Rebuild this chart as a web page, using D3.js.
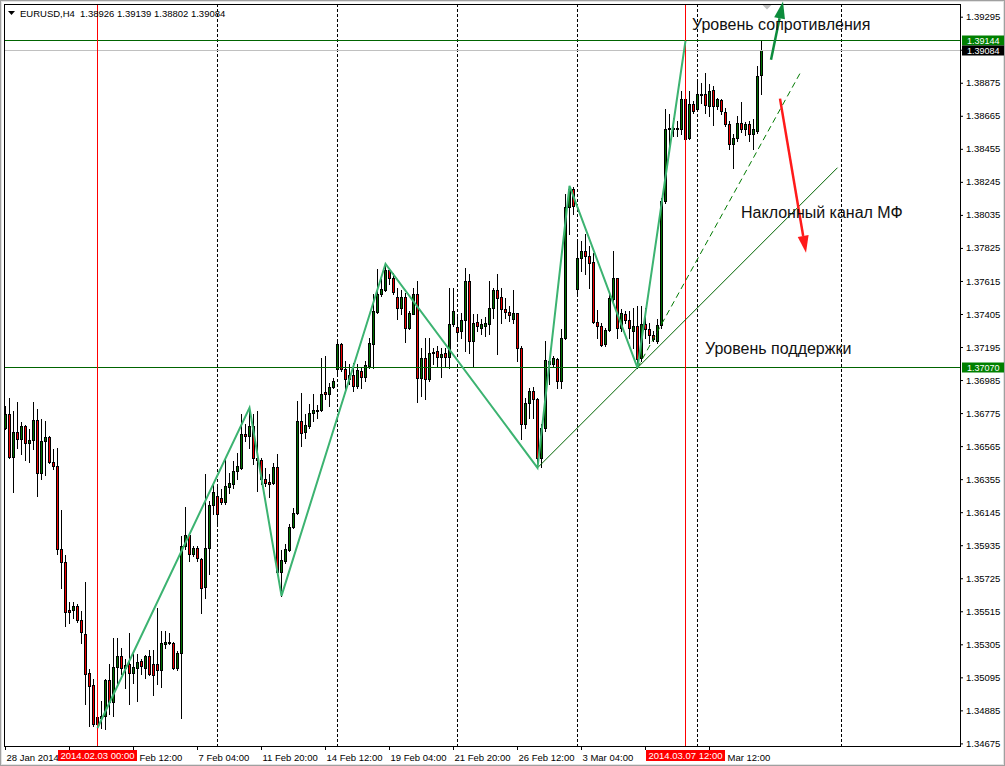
<!DOCTYPE html>
<html><head><meta charset="utf-8">
<script src="https://cdn.jsdelivr.net/npm/d3@7"></script>
<style>
html,body{margin:0;padding:0;background:#fff;}
svg{display:block;font-family:"Liberation Sans",Arial,sans-serif;}
</style>
</head><body>
<svg id="chart" width="1005" height="766"></svg>
<script>
// ---------------- DATA ----------------
const symbol = "EURUSD,H4";
// H4 bars, index 0 = 28 Jan 2014 04:00
const openP = [1.36681,1.36770,1.36497,1.36656,1.36611,1.36694,1.36586,1.36605,1.36732,1.36395,
1.36599,1.36624,1.36465,1.36440,1.35912,1.35829,1.35524,1.35524,1.35549,1.35460,
1.35371,1.35123,1.35047,1.34799,1.34837,1.34850,1.35079,1.34939,1.35161,1.35231,
1.35155,1.35180,1.35123,1.35155,1.35199,1.35155,1.35231,1.35180,1.35180,1.35142,
1.35307,1.35314,1.35314,1.35155,1.35250,1.35931,1.36001,1.35880,1.35918,1.35848,
1.35670,1.35918,1.36192,1.36249,1.36236,1.36211,1.36306,1.36325,1.36408,1.36427,
1.36643,1.36630,1.36694,1.36490,1.36478,1.36357,1.36338,1.36331,1.36433,1.35765,
1.35835,1.35905,1.36052,1.36141,1.36726,1.36656,1.36694,1.36777,1.36789,1.36796,
1.36910,1.36897,1.36942,1.37056,1.37215,1.37056,1.36993,1.37018,1.36948,1.37044,
1.37006,1.37076,1.37215,1.37419,1.37534,1.37559,1.37686,1.37635,1.37514,1.37445,
1.37514,1.37317,1.37406,1.37534,1.36999,1.37126,1.36993,1.37158,1.37171,1.37133,
1.37158,1.37133,1.37343,1.37323,1.37298,1.37368,1.37616,1.37235,1.37355,1.37317,
1.37330,1.37343,1.37445,1.37559,1.37514,1.37438,1.37419,1.37375,1.37413,1.37190,
1.36707,1.36840,1.36917,1.36866,1.36490,1.36681,1.37107,1.37088,1.37120,1.36980,
1.37254,1.38087,1.38201,1.37565,1.37762,1.37807,1.37775,1.37737,1.37355,1.37330,
1.37215,1.37305,1.37502,1.37635,1.37317,1.37406,1.37368,1.37298,1.37330,1.37126,
1.37343,1.37311,1.37273,1.37235,1.37336,1.38125,1.38583,1.38589,1.38583,1.38583,
1.38774,1.38526,1.38742,1.38708,1.38805,1.38805,1.38729,1.38831,1.38729,1.38767,
1.38691,1.38615,1.38487,1.38526,1.38621,1.38583,1.38615,1.38551,1.38570,1.38926];
const highP = [1.36821,1.36872,1.36789,1.36847,1.36719,1.36700,1.36675,1.36847,1.36802,1.36739,
1.36726,1.36630,1.36548,1.36554,1.36160,1.35874,1.35575,1.35575,1.35562,1.35517,
1.35702,1.35149,1.35085,1.34850,1.34945,1.35085,1.35180,1.35346,1.35346,1.35282,
1.35212,1.35378,1.35244,1.35244,1.35212,1.35238,1.35269,1.35269,1.35536,1.35390,
1.35390,1.35378,1.35320,1.35263,1.35994,1.36179,1.36014,1.35931,1.35931,1.35855,
1.36389,1.36217,1.36325,1.36312,1.36293,1.36490,1.36395,1.36471,1.36522,1.36770,
1.36707,1.36808,1.36770,1.36789,1.36490,1.36427,1.36389,1.36459,1.36516,1.35905,
1.35944,1.36071,1.36173,1.36853,1.36904,1.36770,1.36834,1.36897,1.36828,1.37126,
1.37139,1.36967,1.36999,1.37235,1.37222,1.37107,1.37088,1.37095,1.37088,1.37063,
1.37107,1.37254,1.37534,1.37693,1.37629,1.37724,1.37699,1.37667,1.37572,1.37559,
1.37540,1.37425,1.37572,1.37616,1.37190,1.37254,1.37254,1.37190,1.37203,1.37190,
1.37190,1.37572,1.37572,1.37397,1.37413,1.37699,1.37661,1.37406,1.37406,1.37375,
1.37387,1.37616,1.37572,1.37661,1.37572,1.37508,1.37457,1.37559,1.37413,1.37203,
1.36872,1.36936,1.36942,1.36872,1.36707,1.37235,1.37126,1.37139,1.37126,1.37311,
1.38170,1.38220,1.38214,1.37883,1.37871,1.37915,1.37839,1.37794,1.37432,1.37349,
1.37317,1.37540,1.37807,1.37635,1.37438,1.37425,1.37425,1.37445,1.37457,1.37457,
1.37445,1.37349,1.37298,1.37375,1.38144,1.38708,1.38675,1.38653,1.38634,1.38825,
1.39142,1.38825,1.38761,1.38888,1.38875,1.38939,1.38869,1.38856,1.38780,1.38774,
1.38717,1.38634,1.38551,1.38666,1.38755,1.38627,1.38634,1.38646,1.38984,1.39139];
const lowP = [1.36675,1.36490,1.36274,1.36554,1.36516,1.36478,1.36465,1.36548,1.36249,1.36357,
1.36382,1.36459,1.36420,1.35880,1.35664,1.35422,1.35441,1.35473,1.35447,1.35314,
1.34926,1.34786,1.34786,1.34773,1.34773,1.34767,1.34862,1.34850,1.35059,1.35117,
1.35028,1.34926,1.35059,1.34945,1.35117,1.35091,1.35110,1.34983,1.35053,1.35034,
1.35282,1.35307,1.35149,1.35142,1.34837,1.35912,1.35835,1.35867,1.35835,1.35505,
1.35600,1.35753,1.36134,1.36077,1.36198,1.36198,1.36268,1.36300,1.36357,1.36420,
1.36599,1.36554,1.36452,1.36281,1.36325,1.36312,1.36242,1.36325,1.35759,1.35613,
1.35823,1.35899,1.36045,1.36134,1.36567,1.36618,1.36681,1.36726,1.36745,1.36789,
1.36866,1.36821,1.36936,1.37031,1.37044,1.36929,1.36961,1.36917,1.36936,1.36936,
1.36980,1.37063,1.37063,1.37413,1.37521,1.37553,1.37597,1.37534,1.37375,1.37406,
1.37228,1.37311,1.37406,1.36847,1.36885,1.36866,1.36980,1.37088,1.37076,1.37006,
1.37076,1.37063,1.37330,1.37254,1.37254,1.37171,1.37158,1.37076,1.37298,1.37279,
1.37266,1.37279,1.37381,1.37152,1.37349,1.37381,1.37362,1.37349,1.37107,1.36611,
1.36681,1.36745,1.36745,1.36427,1.36433,1.36662,1.36961,1.37076,1.36936,1.36936,
1.37247,1.37915,1.38042,1.37527,1.37680,1.37661,1.37572,1.37349,1.37254,1.37203,
1.37203,1.37298,1.37489,1.37254,1.37298,1.37349,1.37254,1.37190,1.37063,1.37107,
1.37254,1.37222,1.37235,1.37222,1.37317,1.38112,1.38475,1.38538,1.38538,1.38551,
1.38494,1.38519,1.38685,1.38697,1.38748,1.38685,1.38666,1.38608,1.38708,1.38675,
1.38602,1.38456,1.38335,1.38507,1.38564,1.38545,1.38507,1.38456,1.38558,1.38802];
const closeP = [1.36770,1.36497,1.36656,1.36611,1.36694,1.36586,1.36605,1.36732,1.36395,1.36599,
1.36624,1.36465,1.36440,1.35912,1.35829,1.35511,1.35511,1.35549,1.35460,1.35384,
1.35117,1.35040,1.34799,1.34843,1.34850,1.35079,1.34939,1.35161,1.35231,1.35155,
1.35174,1.35123,1.35161,1.35193,1.35168,1.35231,1.35117,1.35110,1.35142,1.35314,
1.35320,1.35320,1.35155,1.35250,1.35931,1.36001,1.35880,1.35918,1.35855,1.35664,
1.35918,1.36192,1.36274,1.36134,1.36211,1.36312,1.36331,1.36408,1.36440,1.36643,
1.36630,1.36694,1.36490,1.36478,1.36357,1.36331,1.36325,1.36433,1.35765,1.35842,
1.35912,1.36052,1.36141,1.36726,1.36650,1.36700,1.36777,1.36796,1.36796,1.36897,
1.36897,1.36942,1.36980,1.37215,1.37056,1.36993,1.37018,1.36948,1.37050,1.37006,
1.37082,1.37222,1.37425,1.37534,1.37565,1.37686,1.37635,1.37546,1.37445,1.37514,
1.37317,1.37413,1.37534,1.36999,1.37126,1.36993,1.37158,1.37165,1.37133,1.37152,
1.37133,1.37343,1.37425,1.37292,1.37368,1.37616,1.37235,1.37349,1.37330,1.37343,
1.37349,1.37445,1.37559,1.37508,1.37438,1.37419,1.37397,1.37413,1.37190,1.36707,
1.36840,1.36917,1.36866,1.36490,1.36681,1.37114,1.37088,1.37126,1.36980,1.37254,
1.38087,1.38201,1.38093,1.37762,1.37807,1.37775,1.37731,1.37355,1.37330,1.37209,
1.37305,1.37508,1.37635,1.37317,1.37413,1.37368,1.37317,1.37330,1.37120,1.37343,
1.37311,1.37273,1.37247,1.37336,1.38125,1.38583,1.38589,1.38583,1.38589,1.38774,
1.38519,1.38742,1.38697,1.38805,1.38799,1.38736,1.38825,1.38729,1.38774,1.38697,
1.38615,1.38487,1.38526,1.38621,1.38583,1.38615,1.38551,1.38583,1.38920,1.39084];

// price axis tick values and their labels ("" where the label is hidden under a price box)
const priceTicks = [1.39295,1.39085,1.38875,1.38665,1.38455,1.38245,1.38035,1.37825,1.37615,1.37405,
1.37195,1.36985,1.36775,1.36565,1.36355,1.36145,1.35935,1.35725,1.35515,1.35305,1.35095,1.34885,1.34675];
const priceTickLabels = ["1.39295","","1.38875","1.38665","1.38455","1.38245","1.38035","1.37825","1.37615","1.37405",
"1.37195","1.36985","1.36775","1.36565","1.36355","1.36145","1.35935","1.35725","1.35515","1.35305","1.35095","1.34885","1.34675"];
// time axis ticks (bar index) and the visible part of their labels
const timeTickBars = [0,16,32,48,64,80,96,112,128,144,160,176];
const timeTickLabels = ["28 Jan 2014","","Feb 12:00","7 Feb 04:00","11 Feb 20:00","14 Feb 12:00",
"19 Feb 04:00","21 Feb 20:00","26 Feb 12:00","3 Mar 04:00","","Mar 12:00"];
// weekly period separators (bar index)
const separatorBars = [53,83,113,143,173,209];
// red vertical lines
const markerBars = [23,170];
const markerLabels = ["2014.02.03 00:00","2014.03.07 12:00"];
// zigzag
const zigBars = [23,61,69,95,133,141,158,170];
const zigPrices = [1.34773,1.36808,1.35613,1.37724,1.36427,1.38220,1.37063,1.39142];
// channel lines
const channelBars = [133,208];
const channelPrices = [1.36427,1.38335];
const channelDashBars = [158,199];
const channelDashPrices = [1.37063,1.38952];
// horizontal levels
const resistanceLevel = 1.39144;
const supportLevel = 1.37070;
// arrows
const upArrowBars = [191.5,194.5];
const upArrowPrices = [1.39022,1.39391];
const downArrowBars = [193.75,200.25];
const downArrowPrices = [1.38774,1.37794];
// text labels (anchored at bar index / price)
const noteTexts = ["Уровень сопротивления","Наклонный канал МФ","Уровень поддержки"];
const noteBars = [171.75,184,175];
const notePrices = [1.39213,1.38017,1.37152];
const shiftMarkerBar = 190.5;

// ---------------- DRAW ----------------
const W = 1005, H = 766;
const plot = {left:4, top:4, right:960, bottom:746};
const svg = d3.select("#chart");
const fmt = d3.format(".5f");
const FS = 9.5;

const x = d3.scaleLinear().domain([0,200]).range([5,805]);
const y = d3.scaleLinear().domain([1.34675,1.39295]).range([743.4,16.7]);
const px = i => Math.round(x(i)) + 0.5;
const py = p => Math.round(y(p)) + 0.5;

svg.append("rect").attr("width",W).attr("height",H).attr("fill","#fff");
svg.append("rect").attr("x",0.5).attr("y",0.5).attr("width",W-1).attr("height",H-1)
  .attr("fill","none").attr("stroke","#a0a0a0");
svg.append("rect").attr("x",1.5).attr("y",1.5).attr("width",W-3).attr("height",H-3)
  .attr("fill","none").attr("stroke","#e3e3e3");

svg.append("clipPath").attr("id","clip").append("rect")
  .attr("x",plot.left+1).attr("y",plot.top+1)
  .attr("width",plot.right-plot.left-1).attr("height",plot.bottom-plot.top-1);
const g = svg.append("g").attr("clip-path","url(#clip)");

// separators
g.selectAll("line.sep").data(separatorBars).join("line")
  .attr("x1",d=>px(d)).attr("x2",d=>px(d)).attr("y1",plot.top).attr("y2",plot.bottom)
  .attr("stroke","#000").attr("stroke-dasharray","3,2").attr("shape-rendering","crispEdges");

// candles
const bars = d3.range(openP.length).map(i=>({i,o:openP[i],h:highP[i],l:lowP[i],c:closeP[i]}));
const cg = g.append("g");
cg.selectAll("line.wick").data(bars).join("line")
  .attr("x1",d=>px(d.i)).attr("x2",d=>px(d.i))
  .attr("y1",d=>Math.round(y(d.h))).attr("y2",d=>Math.round(y(d.l))+1)
  .attr("stroke","#000").attr("shape-rendering","crispEdges");
cg.selectAll("rect.body").data(bars).join("rect")
  .attr("x",d=>px(d.i)-1).attr("width",2)
  .attr("y",d=>Math.round(y(Math.max(d.o,d.c)))+0.5)
  .attr("height",d=>Math.round(y(Math.min(d.o,d.c)))-Math.round(y(Math.max(d.o,d.c))))
  .attr("fill",d=>d.c>=d.o?"#007000":"#f00000")
  .attr("stroke","#000").attr("shape-rendering","crispEdges");

// horizontal levels
g.append("line").attr("x1",plot.left).attr("x2",plot.right)
  .attr("y1",py(closeP[closeP.length-1])).attr("y2",py(closeP[closeP.length-1]))
  .attr("stroke","#c0c0c0").attr("shape-rendering","crispEdges");
[resistanceLevel,supportLevel].forEach(p=>{
  g.append("line").attr("x1",plot.left).attr("x2",plot.right).attr("y1",py(p)).attr("y2",py(p))
   .attr("stroke","#006400").attr("shape-rendering","crispEdges");
});

// red vertical lines
g.selectAll("line.mark").data(markerBars).join("line")
  .attr("x1",d=>px(d)).attr("x2",d=>px(d)).attr("y1",plot.top).attr("y2",plot.bottom)
  .attr("stroke","#ff0000").attr("shape-rendering","crispEdges");

// channel
g.append("line").attr("x1",x(channelBars[0])+0.5).attr("y1",y(channelPrices[0]))
  .attr("x2",x(channelBars[1])+0.5).attr("y2",y(channelPrices[1]))
  .attr("stroke","#006400").attr("stroke-width",1);
g.append("line").attr("x1",x(channelDashBars[0])+0.5).attr("y1",y(channelDashPrices[0]))
  .attr("x2",x(channelDashBars[1])+0.5).attr("y2",y(channelDashPrices[1]))
  .attr("stroke","#007a00").attr("stroke-width",1).attr("stroke-dasharray","6,4");

// zigzag
const zz = zigBars.map((b,k)=>[x(b)+0.5,y(zigPrices[k])]);
g.append("path").attr("d",d3.line()(zz)).attr("fill","none")
  .attr("stroke","#3cb371").attr("stroke-width",2).attr("stroke-linejoin","miter");

// frame
svg.append("rect").attr("x",plot.left+0.5).attr("y",plot.top+0.5)
  .attr("width",plot.right-plot.left).attr("height",plot.bottom-plot.top)
  .attr("fill","none").attr("stroke","#000").attr("shape-rendering","crispEdges");

// arrows
function arrow(bs,ps,color,w){
  const x1=x(bs[0]),y1=y(ps[0]),x2=x(bs[1]),y2=y(ps[1]);
  const ang=Math.atan2(y2-y1,x2-x1), L=17, hw=5.5;
  const bx=x2-L*Math.cos(ang), by=y2-L*Math.sin(ang);
  svg.append("line").attr("x1",x1).attr("y1",y1).attr("x2",bx).attr("y2",by)
    .attr("stroke",color).attr("stroke-width",w);
  const nx=-Math.sin(ang), ny=Math.cos(ang);
  svg.append("path").attr("d",`M${x2},${y2}L${bx+nx*hw},${by+ny*hw}L${bx-nx*hw},${by-ny*hw}Z`)
    .attr("fill",color);
}
arrow(upArrowBars,upArrowPrices,"#0c8c3c",2.5);
arrow(downArrowBars,downArrowPrices,"#ff1a1a",2.5);

// shift marker
const sx = x(shiftMarkerBar);
svg.append("path").attr("d",`M${sx-4.5},5L${sx+4.5},5L${sx},9.5Z`).attr("fill","#c0c0c0");

// notes
svg.selectAll("text.note").data(noteTexts).join("text")
  .attr("x",(d,k)=>x(noteBars[k])).attr("y",(d,k)=>y(notePrices[k]))
  .attr("font-size",16).attr("fill","#111").text(d=>d);

// header
svg.append("path").attr("d","M8,11L15,11L11.5,15Z").attr("fill","#000");
svg.append("text").attr("x",20).attr("y",16.5).attr("font-size",FS).attr("fill","#000").text(symbol);
svg.append("text").attr("x",80).attr("y",16.5).attr("font-size",FS).attr("fill","#000")
  .text([openP,highP,lowP,closeP].map(a=>fmt(a[a.length-1])).join(" "));

// right axis
const ay = svg.append("g").attr("transform",`translate(${plot.right},0)`)
  .call(d3.axisRight(y).tickValues(priceTicks).tickFormat((d,k)=>priceTickLabels[k]).tickSize(3).tickPadding(3));
ay.select(".domain").remove();
ay.selectAll("text").attr("font-size",FS).attr("font-family","Liberation Sans, Arial, sans-serif").attr("fill","#000");
ay.selectAll("line").attr("stroke","#000");

// bottom axis
const boxHalf = 39.5;
const ax = svg.append("g").attr("transform",`translate(0,${plot.bottom})`)
  .call(d3.axisBottom(x).tickValues(timeTickBars).tickFormat((d,k)=>timeTickLabels[k]).tickSize(4).tickPadding(3));
ax.select(".domain").remove();
ax.selectAll("text").attr("font-size",FS).attr("font-family","Liberation Sans, Arial, sans-serif")
  .attr("fill","#000").attr("text-anchor","start").attr("dy","0.85em")
  .attr("x",d=>{
    const tx = x(d);
    for (const mb of markerBars){ const cx=px(mb); if (tx>cx-boxHalf-2 && tx<cx+boxHalf) return (cx+boxHalf+2)-tx; }
    return 1;
  });
ax.selectAll("line").attr("stroke","#000");

// price boxes
function priceBox(p,bg){
  const cy=Math.round(y(p));
  svg.append("rect").attr("x",plot.right+2).attr("y",cy-4.5).attr("width",42).attr("height",10).attr("fill",bg);
  svg.append("text").attr("x",plot.right+7).attr("y",cy+4).attr("font-size",9).attr("fill","#fff").text(fmt(p));
}
priceBox(resistanceLevel,"#008000");
priceBox(closeP[closeP.length-1],"#000");
priceBox(supportLevel,"#008000");

// time marker boxes
markerBars.forEach((b,k)=>{
  const cx=px(b);
  svg.append("rect").attr("x",cx-boxHalf).attr("y",750).attr("width",2*boxHalf).attr("height",11).attr("fill","#ff0000");
  svg.append("text").attr("x",cx).attr("y",759).attr("text-anchor","middle").attr("font-size",FS)
    .attr("fill","#fff").text(markerLabels[k]);
});
</script>
</body></html>
